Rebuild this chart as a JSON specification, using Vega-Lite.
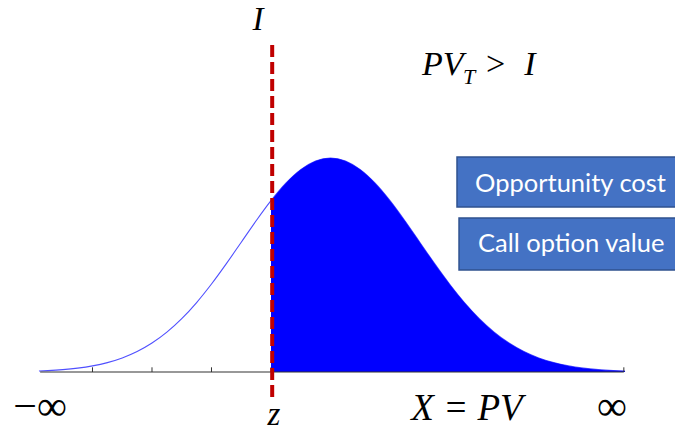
{
  "$schema": "https://vega.github.io/schema/vega-lite/v6.json",
  "width": 675,
  "height": 433,
  "autosize": "none",
  "padding": 0,
  "background": "white",
  "config": {"view": {"stroke": null}},
  "datasets": {
    "curve": [
      {"pv": -3.9, "density": 0.00482},
      {"pv": -3.75, "density": 0.00665},
      {"pv": -3.5, "density": 0.01111},
      {"pv": -3.25, "density": 0.01806},
      {"pv": -3.0, "density": 0.02857},
      {"pv": -2.75, "density": 0.04394},
      {"pv": -2.5, "density": 0.06572},
      {"pv": -2.25, "density": 0.09564},
      {"pv": -2.0, "density": 0.13534},
      {"pv": -1.75, "density": 0.18624},
      {"pv": -1.5, "density": 0.24935},
      {"pv": -1.25, "density": 0.32465},
      {"pv": -1.0, "density": 0.41111},
      {"pv": -0.75, "density": 0.50633},
      {"pv": -0.5, "density": 0.60653},
      {"pv": -0.25, "density": 0.70665},
      {"pv": 0.0, "density": 0.80074},
      {"pv": 0.25, "density": 0.8825},
      {"pv": 0.5, "density": 0.94596},
      {"pv": 0.75, "density": 0.98621},
      {"pv": 1.0, "density": 1.0},
      {"pv": 1.25, "density": 0.98621},
      {"pv": 1.5, "density": 0.94596},
      {"pv": 1.75, "density": 0.8825},
      {"pv": 2.0, "density": 0.80074},
      {"pv": 2.25, "density": 0.70665},
      {"pv": 2.5, "density": 0.60653},
      {"pv": 2.75, "density": 0.50633},
      {"pv": 3.0, "density": 0.41111},
      {"pv": 3.25, "density": 0.32465},
      {"pv": 3.5, "density": 0.24935},
      {"pv": 3.75, "density": 0.18624},
      {"pv": 4.0, "density": 0.13534},
      {"pv": 4.25, "density": 0.09564},
      {"pv": 4.5, "density": 0.06572},
      {"pv": 4.75, "density": 0.04394},
      {"pv": 5.0, "density": 0.02857},
      {"pv": 5.25, "density": 0.01806},
      {"pv": 5.5, "density": 0.01111},
      {"pv": 5.75, "density": 0.00665},
      {"pv": 5.95, "density": 0.00432}
    ],
    "ticks": [
      {"pv": -3},
      {"pv": -2},
      {"pv": -1},
      {"pv": 0},
      {"pv": 5.93}
    ]
  },
  "encoding": {
    "x": {"type": "quantitative", "scale": {"domain": [-4.5546, 6.7899], "nice": false, "zero": false}, "axis": null},
    "y": {"type": "quantitative", "scale": {"domain": [-0.285, 1.7383], "nice": false, "zero": false}, "axis": null}
  },
  "layer": [
    {
      "data": {"name": "curve"},
      "mark": {"type": "line", "color": "#5050ff", "strokeWidth": 1.1, "interpolate": "monotone"},
      "encoding": {
        "x": {"field": "pv", "type": "quantitative"},
        "y": {"field": "density", "type": "quantitative"}
      }
    },
    {
      "data": {"name": "curve"},
      "transform": [{"filter": "datum.pv >= 0"}],
      "mark": {"type": "area", "color": "#0000ff", "interpolate": "monotone"},
      "encoding": {
        "x": {"field": "pv", "type": "quantitative"},
        "y": {"field": "density", "type": "quantitative"},
        "y2": {"datum": 0}
      }
    },
    {
      "data": {"values": [{}]},
      "mark": {"type": "rule", "color": "#333333", "strokeWidth": 1.2},
      "encoding": {
        "x": {"datum": -3.88},
        "x2": {"datum": 5.93},
        "y": {"datum": 0}
      }
    },
    {
      "data": {"name": "ticks"},
      "mark": {"type": "rule", "color": "#333333", "strokeWidth": 1},
      "encoding": {
        "x": {"field": "pv", "type": "quantitative"},
        "y": {"datum": 0},
        "y2": {"datum": 0.022}
      }
    },
    {
      "data": {"values": [{}]},
      "mark": {"type": "rule", "color": "#c00000", "strokeWidth": 4, "strokeDash": [12, 5]},
      "encoding": {
        "x": {"datum": 0.02},
        "y": {"datum": -0.117},
        "y2": {"datum": 1.551}
      }
    },
    {
      "data": {"values": [{}]},
      "mark": {"type": "rect", "fill": "#4472c4", "stroke": "#2f528f", "strokeWidth": 1.5},
      "encoding": {
        "x": {"datum": 3.126},
        "x2": {"datum": 7.5},
        "y": {"datum": 1.0047},
        "y2": {"datum": 0.771}
      }
    },
    {
      "data": {"values": [{}]},
      "mark": {"type": "rect", "fill": "#4472c4", "stroke": "#2f528f", "strokeWidth": 1.5},
      "encoding": {
        "x": {"datum": 3.16},
        "x2": {"datum": 7.5},
        "y": {"datum": 0.7196},
        "y2": {"datum": 0.4766}
      }
    },
    {
      "data": {"values": [{}]},
      "mark": {"type": "text", "text": "Opportunity cost", "font": "Lato", "fontSize": 25.5, "color": "white", "align": "left", "baseline": "alphabetic"},
      "encoding": {"x": {"datum": 3.429}, "y": {"datum": 0.841}}
    },
    {
      "data": {"values": [{}]},
      "mark": {"type": "text", "text": "Call option value", "font": "Lato", "fontSize": 25.5, "color": "white", "align": "left", "baseline": "alphabetic"},
      "encoding": {"x": {"datum": 3.479}, "y": {"datum": 0.561}}
    },
    {
      "data": {"values": [{}]},
      "mark": {"type": "text", "text": "I", "font": "Liberation Serif", "fontStyle": "italic", "fontSize": 33, "color": "black", "align": "center", "baseline": "alphabetic"},
      "encoding": {"x": {"datum": -0.218}, "y": {"datum": 1.598}}
    },
    {
      "data": {"values": [{}]},
      "mark": {"type": "text", "text": "PV", "font": "Liberation Serif", "fontStyle": "italic", "fontSize": 34, "color": "black", "align": "left", "baseline": "alphabetic"},
      "encoding": {"x": {"datum": 2.538}, "y": {"datum": 1.388}}
    },
    {
      "data": {"values": [{}]},
      "mark": {"type": "text", "text": "T", "font": "Liberation Serif", "fontStyle": "italic", "fontSize": 22, "color": "black", "align": "left", "baseline": "alphabetic"},
      "encoding": {"x": {"datum": 3.227}, "y": {"datum": 1.346}}
    },
    {
      "data": {"values": [{}]},
      "mark": {"type": "text", "text": ">", "font": "Liberation Serif", "fontSize": 34, "color": "black", "align": "left", "baseline": "alphabetic"},
      "encoding": {"x": {"datum": 3.613}, "y": {"datum": 1.388}}
    },
    {
      "data": {"values": [{}]},
      "mark": {"type": "text", "text": "I", "font": "Liberation Serif", "fontStyle": "italic", "fontSize": 34, "color": "black", "align": "center", "baseline": "alphabetic"},
      "encoding": {"x": {"datum": 4.353}, "y": {"datum": 1.388}}
    },
    {
      "data": {"values": [{}]},
      "mark": {"type": "text", "text": "X = PV", "font": "Liberation Serif", "fontStyle": "italic", "fontSize": 37, "color": "black", "align": "center", "baseline": "alphabetic"},
      "encoding": {"x": {"datum": 3.294}, "y": {"datum": -0.224}}
    },
    {
      "data": {"values": [{}]},
      "mark": {"type": "text", "text": "−∞", "font": "Liberation Serif", "fontSize": 42, "color": "black", "align": "center", "baseline": "alphabetic"},
      "encoding": {"x": {"datum": -3.882}, "y": {"datum": -0.224}}
    },
    {
      "data": {"values": [{}]},
      "mark": {"type": "text", "text": "∞", "font": "Liberation Serif", "fontSize": 42, "color": "black", "align": "center", "baseline": "alphabetic"},
      "encoding": {"x": {"datum": 5.731}, "y": {"datum": -0.224}}
    },
    {
      "data": {"values": [{}]},
      "mark": {"type": "text", "text": "z", "font": "Liberation Serif", "fontStyle": "italic", "fontSize": 33, "color": "black", "align": "center", "baseline": "alphabetic"},
      "encoding": {"x": {"datum": 0.05}, "y": {"datum": -0.248}}
    }
  ]
}
